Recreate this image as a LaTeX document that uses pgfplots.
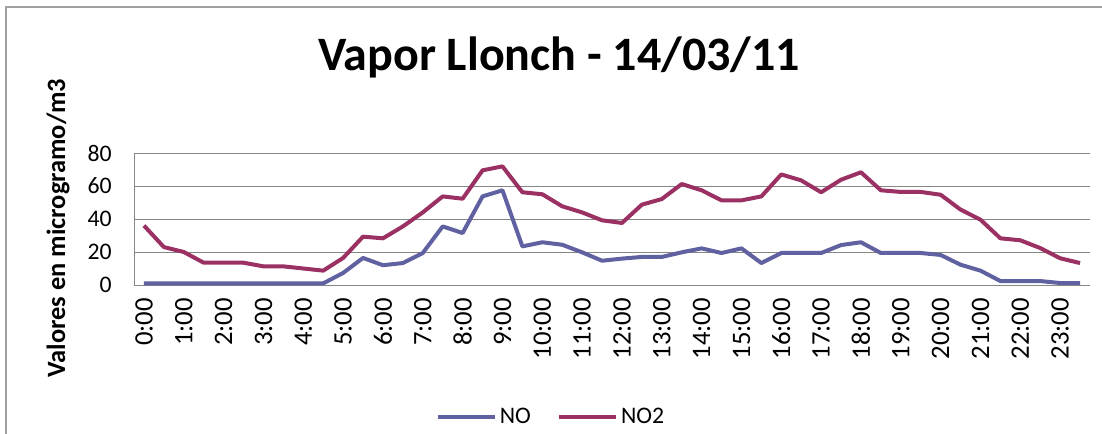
\documentclass[border=0pt]{standalone}
\usepackage{pgfplots}
\pgfplotsset{compat=1.18}
\usepackage{pgfplotstable}
\usepackage{fontspec}
\setmainfont{Carlito}

\definecolor{noline}{RGB}{96,97,160}
\definecolor{nodos}{RGB}{155,48,98}
\definecolor{gridgray}{RGB}{134,134,134}
\definecolor{framegray}{RGB}{160,160,160}

% half-hourly readings, index 0 = 0:00 ... 47 = 23:30
\pgfplotstableread{
i  no   no2
0  1    36
1  1    23
2  1    20
3  1    13.5
4  1    13.5
5  1    13.5
6  1    11.3
7  1    11.3
8  1    10
9  1    8.7
10 7.3  16.4
11 16.4 29.3
12 12   28.3
13 13.3 35.5
14 19.4 44
15 35.5 53.7
16 31.5 52.3
17 53.7 69.5
18 57.4 71.9
19 23.4 56.2
20 25.9 55
21 24.4 47.7
22 19.8 44
23 14.7 39.2
24 16   37.6
25 17   48.7
26 17   52.1
27 19.8 61.2
28 22.2 57.4
29 19.4 51.3
30 22.2 51.3
31 13.3 53.7
32 19.4 67
33 19.4 63.4
34 19.4 56.2
35 24.2 63.8
36 25.9 68.3
37 19.4 57.4
38 19.4 56.4
39 19.4 56.4
40 18.2 54.7
41 12.3 45.7
42 8.7  39.6
43 2.4  28.3
44 2.4  27.1
45 2.4  22.4
46 1.2  16.2
47 1.2  13.3
}\lecturas

\begin{document}
\begin{tikzpicture}
\useasboundingbox (0,0) rectangle (826.5pt,324.75pt);
\draw[framegray, line width=1.5pt] (4.5pt,-2pt) -- (4.5pt,319.5pt) -- (830pt,319.5pt);
\begin{axis}[
    at={(100.5pt,111pt)}, anchor=south west,
    scale only axis,
    width=717pt, height=99pt,
    xmin=-0.5, xmax=47.5,
    ymin=0, ymax=80,
    ytick={0,20,40,60,80},
    xtick={0,2,...,46},
    xticklabels={0:00,1:00,2:00,3:00,4:00,5:00,6:00,7:00,8:00,9:00,10:00,11:00,12:00,13:00,14:00,15:00,16:00,17:00,18:00,19:00,20:00,21:00,22:00,23:00},
    axis x line*=bottom, axis y line*=left,
    axis line style={draw=gridgray, line width=0.75pt},
    ymajorgrids, grid style={draw=gridgray, line width=0.75pt},
    major tick length=0pt,
    tick style={draw=none},
    xticklabel style={rotate=90, anchor=east, inner sep=0pt, font=\fontsize{20}{22}\selectfont},
    xticklabel shift=9.75pt,
    yticklabel style={anchor=east, inner sep=0pt, font=\fontsize{17.8}{20}\selectfont},
    yticklabel shift=16.5pt,
    /pgf/number format/assume math mode=true,
    title={Vapor Llonch - 14/03/11},
    title style={at={(axis description cs:0.4446,1.565)}, anchor=base, inner sep=0pt, font=\bfseries\fontsize{36}{40}\selectfont},
    ylabel={Valores en microgramo/m3},
    ylabel style={at={(axis description cs:-0.0795,0.432)}, anchor=center, inner sep=0pt, font=\bfseries\fontsize{19.8}{22}\selectfont},
    legend columns=2,
    legend style={at={(axis description cs:0.4367,-1.0)}, anchor=center, draw=none, fill=none,
        font=\fontsize{17.8}{20}\selectfont,
        /tikz/every even column/.append style={column sep=18pt}},
    legend image code/.code={\draw[#1] (0pt,0pt) -- (42.75pt,0pt);},
]
\addplot[noline, line width=3pt, line join=round] table[x=i, y=no] {\lecturas};
\addlegendentry{NO}
\addplot[nodos, line width=3pt, line join=round] table[x=i, y=no2] {\lecturas};
\addlegendentry{NO2}
\end{axis}
\end{tikzpicture}
\end{document}
